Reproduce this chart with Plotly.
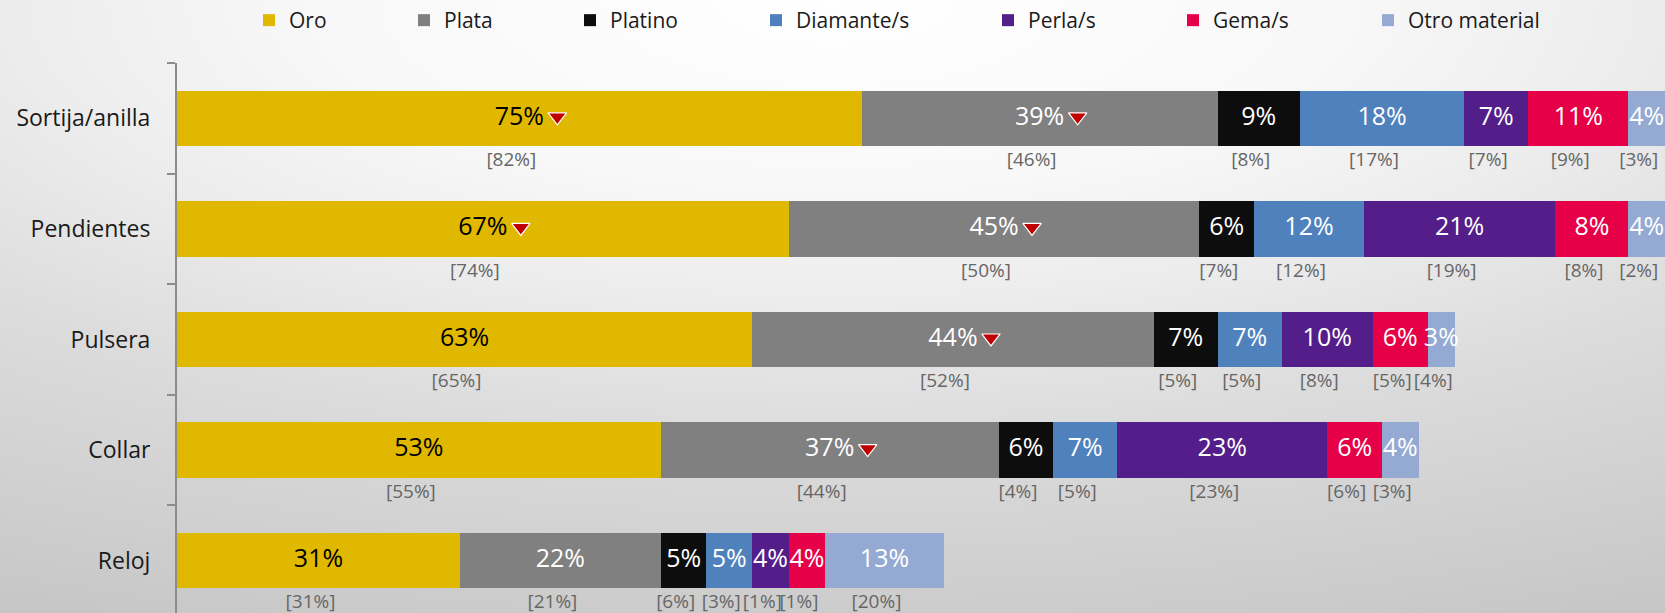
import base64
import plotly.graph_objects as go

# ---------------- data ----------------
categories = ["Sortija/anilla", "Pendientes", "Pulsera", "Collar", "Reloj"]
series_names = ["Oro", "Plata", "Platino", "Diamante/s", "Perla/s", "Gema/s", "Otro material"]

oro = [75, 67, 63, 53, 31]
plata = [39, 45, 44, 37, 22]
platino = [9, 6, 7, 6, 5]
diamante = [18, 12, 7, 7, 5]
perla = [7, 21, 10, 23, 4]
gema = [11, 8, 6, 6, 4]
otro = [4, 4, 3, 4, 13]

oro_prev = [82, 74, 65, 55, 31]
plata_prev = [46, 50, 52, 44, 21]
platino_prev = [8, 7, 5, 4, 6]
diamante_prev = [17, 12, 5, 5, 3]
perla_prev = [7, 19, 8, 23, 1]
gema_prev = [9, 8, 5, 6, 1]
otro_prev = [3, 2, 4, 3, 20]

oro_down = [1, 1, 0, 0, 0]
plata_down = [1, 1, 1, 1, 0]
none_down = [0, 0, 0, 0, 0]

series_values = [oro, plata, platino, diamante, perla, gema, otro]
series_prev = [oro_prev, plata_prev, platino_prev, diamante_prev, perla_prev, gema_prev, otro_prev]
series_down = [oro_down, plata_down, none_down, none_down, none_down, none_down, none_down]

# ---------------- style ----------------
colors = ["#E1B800", "#808080", "#0D0D0D", "#4F81BD", "#541E8A", "#E50048", "#94AAD2"]
label_colors = ["#000000", "#FFFFFF", "#FFFFFF", "#FFFFFF", "#FFFFFF", "#FFFFFF", "#FFFFFF"]
FONT = "Open Sans, Noto Sans, Liberation Sans, sans-serif"

W, H = 1665, 613
ML, MT = 177, 63
PLOT_W, PLOT_H = W - ML, H - MT
Y_TOP, Y_BOTTOM = -0.5, 4.473
legend_swatch_x = [265, 420, 586, 772, 1004, 1189, 1384]  # px, layout only
LEG_PAD = 16
LEG_Y_PX = 20

n = len(categories)
ypos = list(range(n))
totals = [sum(s[i] for s in series_values) for i in range(n)]
XMAX = max(totals)
ppu = PLOT_W / XMAX
ppc = PLOT_H / (Y_BOTTOM - Y_TOP)

fig = go.Figure()

# bars
for k, (name, vals) in enumerate(zip(series_names, series_values)):
    lid = "legend" if k == 0 else f"legend{k+1}"
    fig.add_trace(go.Bar(
        y=ypos, x=vals, orientation="h", width=0.5, name=name,
        marker=dict(color=colors[k], line=dict(width=0)),
        legend=lid, hoverinfo="skip",
    ))

# label positions derived from data
lx, ly, lt, lc = [], [], [], []
bx, by, bt = [], [], []
tx, ty = [], []
cum = [0] * n
for k, vals in enumerate(series_values):
    for i in range(n):
        c = cum[i] + vals[i] / 2
        lx.append(c); ly.append(i); lt.append(f"{vals[i]}%"); lc.append(label_colors[k])
        bx.append(c - 8 / ppu); by.append(i + 43 / ppc); bt.append(f"[{series_prev[k][i]}%]")
        if series_down[k][i]:
            tx.append(c + 38 / ppu); ty.append(i - 1.5 / ppc)
        cum[i] += vals[i]

fig.add_trace(go.Scatter(
    x=lx, y=ly, text=lt, mode="text", textposition="middle center",
    textfont=dict(family=FONT, size=25, color=lc), cliponaxis=False,
    showlegend=False, hoverinfo="skip"))
fig.add_trace(go.Scatter(
    x=bx, y=by, text=bt, mode="text", textposition="middle center",
    textfont=dict(family=FONT, size=19, color="#666666"), cliponaxis=False,
    showlegend=False, hoverinfo="skip"))
fig.add_trace(go.Scatter(
    x=tx, y=ty, mode="markers",
    marker=dict(symbol="triangle-down", size=16, color="#C00000",
                line=dict(color="#FFFFFF", width=1.2)),
    cliponaxis=False, showlegend=False, hoverinfo="skip"))

# background gradient
svg = f"""<svg xmlns='http://www.w3.org/2000/svg' width='{W}' height='{H}' viewBox='0 0 {W} {H}' preserveAspectRatio='none'>
<defs><radialGradient id='g' cx='0.5' cy='0' r='1.1' gradientUnits='objectBoundingBox'>
<stop offset='0' stop-color='#ffffff'/>
<stop offset='0.28' stop-color='#f8f8f8'/>
<stop offset='0.45' stop-color='#ececec'/>
<stop offset='0.64' stop-color='#dcdcdc'/>
<stop offset='0.96' stop-color='#c9c9c9'/>
<stop offset='1' stop-color='#c6c6c6'/>
</radialGradient></defs>
<rect x='0' y='0' width='{W}' height='{H}' fill='url(#g)'/></svg>"""
uri = "data:image/svg+xml;base64," + base64.b64encode(svg.encode()).decode()

layout = dict(
    width=W, height=H,
    margin=dict(l=ML, r=0, t=MT, b=0, pad=0),
    paper_bgcolor="#e6e6e6", plot_bgcolor="rgba(0,0,0,0)",
    barmode="stack", bargap=0.5,
    font=dict(family=FONT, color="#1a1a1a"),
    xaxis=dict(range=[0, XMAX], visible=False, fixedrange=True),
    yaxis=dict(
        range=[Y_BOTTOM, Y_TOP], tickmode="array", tickvals=ypos, ticktext=categories,
        ticks="", showgrid=False, zeroline=False, showline=True,
        linecolor="#8C8C8C", linewidth=2, ticklabelstandoff=20,
        tickfont=dict(family=FONT, size=23, color="#1a1a1a"),
        minor=dict(tickmode="array", tickvals=[i - 0.5 for i in ypos], ticks="outside",
                   ticklen=8, tickwidth=2, tickcolor="#8C8C8C", showgrid=False),
        fixedrange=True,
    ),
    images=[dict(source=uri, xref="paper", yref="paper",
                 x=-ML / PLOT_W, y=1 + MT / PLOT_H, sizex=W / PLOT_W, sizey=H / PLOT_H,
                 xanchor="left", yanchor="top", sizing="stretch", layer="below")],
)
for k, sx in enumerate(legend_swatch_x):
    lid = "legend" if k == 0 else f"legend{k+1}"
    layout[lid] = dict(
        x=(sx - LEG_PAD - ML) / PLOT_W, y=1 + (MT - LEG_Y_PX) / PLOT_H,
        xanchor="left", yanchor="middle", orientation="h",
        bgcolor="rgba(0,0,0,0)", borderwidth=0,
        font=dict(family=FONT, size=21, color="#1a1a1a"),
    )
fig.update_layout(**layout)

fig.write_html(
    "out.html",
    config={"displayModeBar": False},
    post_script="document.body.style.margin='0';document.body.style.overflow='hidden';"
                "document.documentElement.style.overflow='hidden';",
)
